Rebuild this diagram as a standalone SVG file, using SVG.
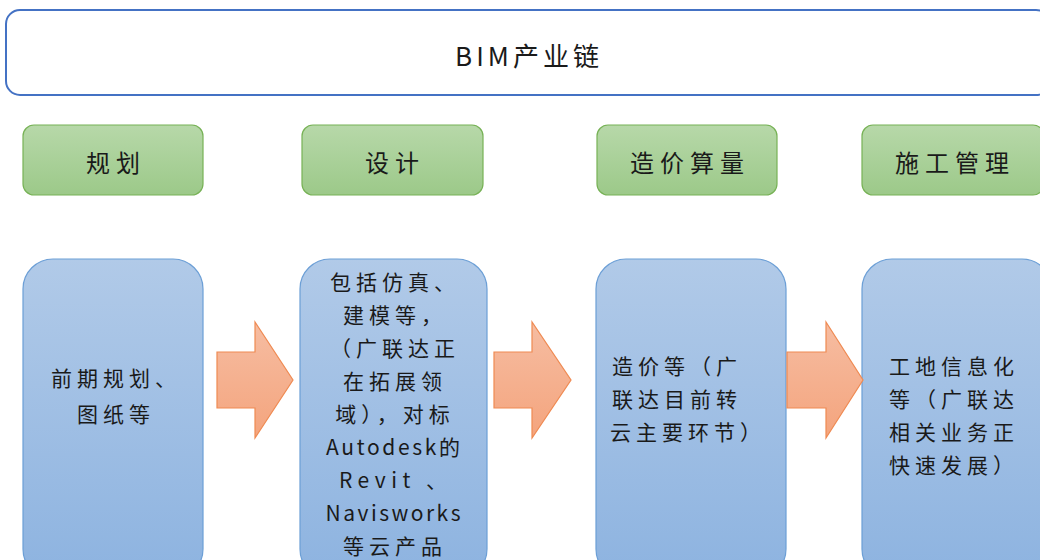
<svg xmlns="http://www.w3.org/2000/svg" width="1040" height="560" viewBox="0 0 1040 560">
<defs>
<linearGradient id="gGreen" x1="0" y1="0" x2="0" y2="1"><stop offset="0" stop-color="#b7d8a9"/><stop offset="1" stop-color="#9cc989"/></linearGradient>
<linearGradient id="gBlue" x1="0" y1="0" x2="0" y2="1"><stop offset="0" stop-color="#b1cae8"/><stop offset="1" stop-color="#8db3e0"/></linearGradient>
<linearGradient id="gOrange" x1="0" y1="0" x2="0" y2="1"><stop offset="0" stop-color="#f6bda2"/><stop offset="1" stop-color="#f4a47d"/></linearGradient>
<style>
.title{fill:#fff;stroke:#4472c4;stroke-width:2}
.green{fill:url(#gGreen);stroke:#77b256;stroke-width:1.2}
.blue{fill:url(#gBlue);stroke:#6c9fd6;stroke-width:1.2}
.arrow{fill:url(#gOrange);stroke:#ef8a52;stroke-width:1.2}
text{font-family:"Noto Sans CJK SC","Liberation Sans",sans-serif;fill:#1a1a1a;dominant-baseline:central}
.tt{font-size:26px;letter-spacing:4px}
.lab{font-size:24px;letter-spacing:6px}
.body{font-size:21px;letter-spacing:5px}
.mid{text-anchor:middle}
</style>
</defs>
<g id="title">
<rect class="title" x="6" y="10" width="1044" height="85" rx="14"/>
<text class="tt mid" x="529" y="54">BIM产业链</text>
</g>
<g id="stage-plan">
<rect class="green" x="23" y="125" width="180" height="70" rx="11"/>
<text class="lab mid" x="116" y="161">规划</text>
</g>
<g id="stage-design">
<rect class="green" x="302" y="125" width="181" height="70" rx="11"/>
<text class="lab mid" x="395" y="161">设计</text>
</g>
<g id="stage-cost">
<rect class="green" x="597" y="125" width="180" height="70" rx="11"/>
<text class="lab mid" x="690" y="161">造价算量</text>
</g>
<g id="stage-construction">
<rect class="green" x="862" y="125" width="182" height="70" rx="11"/>
<text class="lab mid" x="955" y="161">施工管理</text>
</g>
<g id="detail-plan">
<rect class="blue" x="23" y="259" width="180" height="320" rx="30"/>
<text class="body mid" x="116" y="377">前期规划、</text>
<text class="body mid" x="116" y="413">图纸等</text>
</g>
<g id="detail-design">
<rect class="blue" x="300" y="259" width="187" height="320" rx="30"/>
<text class="body mid" x="395" y="281">包括仿真、</text>
<text class="body mid" x="395" y="314">建模等，</text>
<text class="body mid" x="395" y="347">（广联达正</text>
<text class="body mid" x="395" y="380">在拓展领</text>
<text class="body mid" x="395" y="413">域），对标</text>
<text class="body mid" x="393" y="446" textLength="134" lengthAdjust="spacing" style="letter-spacing:0">Autodesk的</text>
<text class="body mid" x="393" y="479" textLength="108" lengthAdjust="spacing" style="letter-spacing:0">Revit 、</text>
<text class="body mid" x="393" y="512" textLength="135" lengthAdjust="spacing" style="letter-spacing:0">Navisworks</text>
<text class="body mid" x="395" y="545">等云产品</text>
</g>
<g id="detail-cost">
<rect class="blue" x="596" y="259" width="190" height="320" rx="30"/>
<text class="body" x="612" y="365">造价等（广</text>
<text class="body" x="612" y="398">联达目前转</text>
<text class="body" x="610" y="431">云主要环节）</text>
</g>
<g id="detail-construction">
<rect class="blue" x="862" y="259" width="190" height="320" rx="30"/>
<text class="body" x="889" y="365">工地信息化</text>
<text class="body" x="889" y="398">等（广联达</text>
<text class="body" x="889" y="431">相关业务正</text>
<text class="body" x="889" y="464">快速发展）</text>
</g>
<g id="connectors">
<polygon class="arrow" points="217,352 255,352 255,322 293,380 255,438 255,408 217,408"/>
<polygon class="arrow" points="494,352 532,352 532,322 571,380 532,438 532,408 494,408"/>
<polygon class="arrow" points="787,352 826,352 826,322 863,380 826,438 826,408 787,408"/>
</g>
</svg>
